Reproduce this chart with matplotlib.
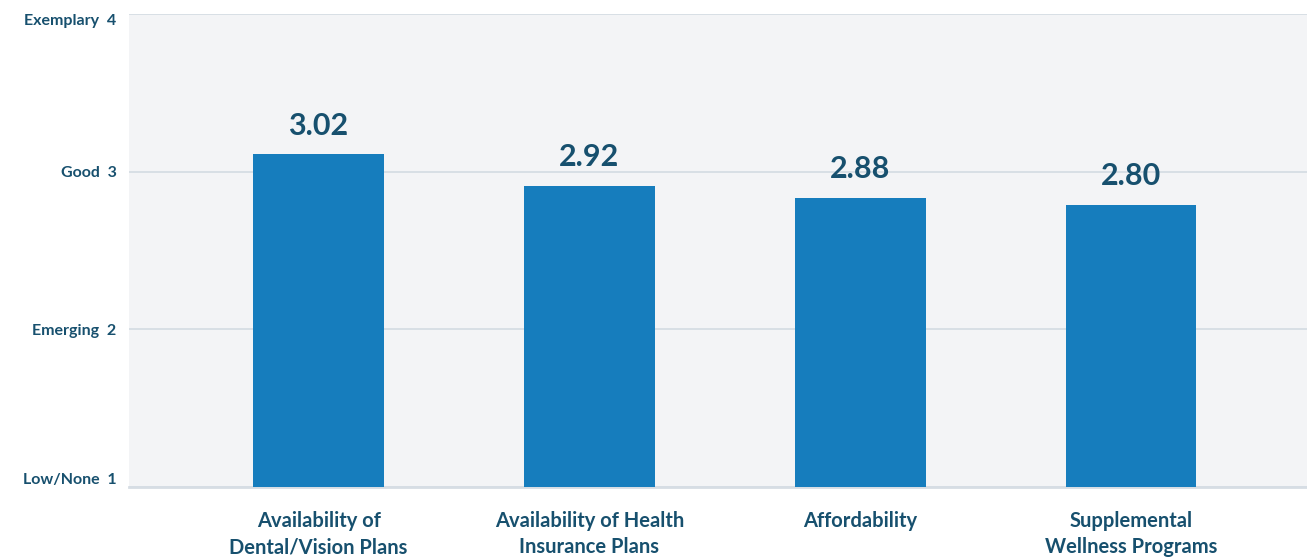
import matplotlib.pyplot as plt

# === data ===
categories = [
    "Availability of\nDental/Vision Plans",
    "Availability of Health\nInsurance Plans",
    "Affordability",
    "Supplemental\nWellness Programs",
]
bar_heights = [3.11, 2.91, 2.835, 2.79]   # as drawn in the picture
value_labels = ["3.02", "2.92", "2.88", "2.80"]
y_ticks = [1, 2, 3, 4]
y_tick_labels = ["Low/None  1", "Emerging  2", "Good  3", "Exemplary  4"]

bar_color = "#167dbd"
text_color = "#17506e"
grid_color = "#d6dde4"

plt.rcParams["font.family"] = ["Lato", "DejaVu Sans"]

fig = plt.figure(figsize=(13.07, 5.57), dpi=100)
ax = fig.add_axes([129 / 1307, 1 - 487 / 557, 1 - 129 / 1307, (487 - 14) / 557])
ax.set_facecolor("#f3f4f6")

x = list(range(len(categories)))
ax.bar(x, [h - 1 for h in bar_heights], bottom=1, width=0.483,
       color=bar_color, zorder=3)

for xi, h, lab in zip(x, bar_heights, value_labels):
    ax.annotate(lab, (xi, h), xytext=(0, 10.5), textcoords="offset points",
                ha="center", va="bottom", fontsize=22, fontweight="bold",
                color=text_color, zorder=4)

ax.set_xlim(-0.70, 3.65)
ax.set_ylim(1, 4)
ax.set_yticks(y_ticks)
ax.set_yticklabels(y_tick_labels, fontsize=11.5, fontweight="bold", color=text_color)
ylabels = ax.get_yticklabels()
ylabels[0].set_va("bottom")
ylabels[-1].set_va("top")
ax.set_xticks(x)
ax.set_xticklabels(categories, fontsize=14.5, fontweight="bold", color=text_color,
                   linespacing=1.4)
ax.tick_params(axis="y", length=0, pad=9)
ax.tick_params(axis="x", length=0, pad=17)

ax.grid(axis="y", color=grid_color, linewidth=1.3, zorder=0)
for side in ["top", "right", "left"]:
    ax.spines[side].set_visible(False)
ax.spines["bottom"].set_color(grid_color)
ax.spines["bottom"].set_linewidth(2)

fig.savefig("out.png", dpi=100)
